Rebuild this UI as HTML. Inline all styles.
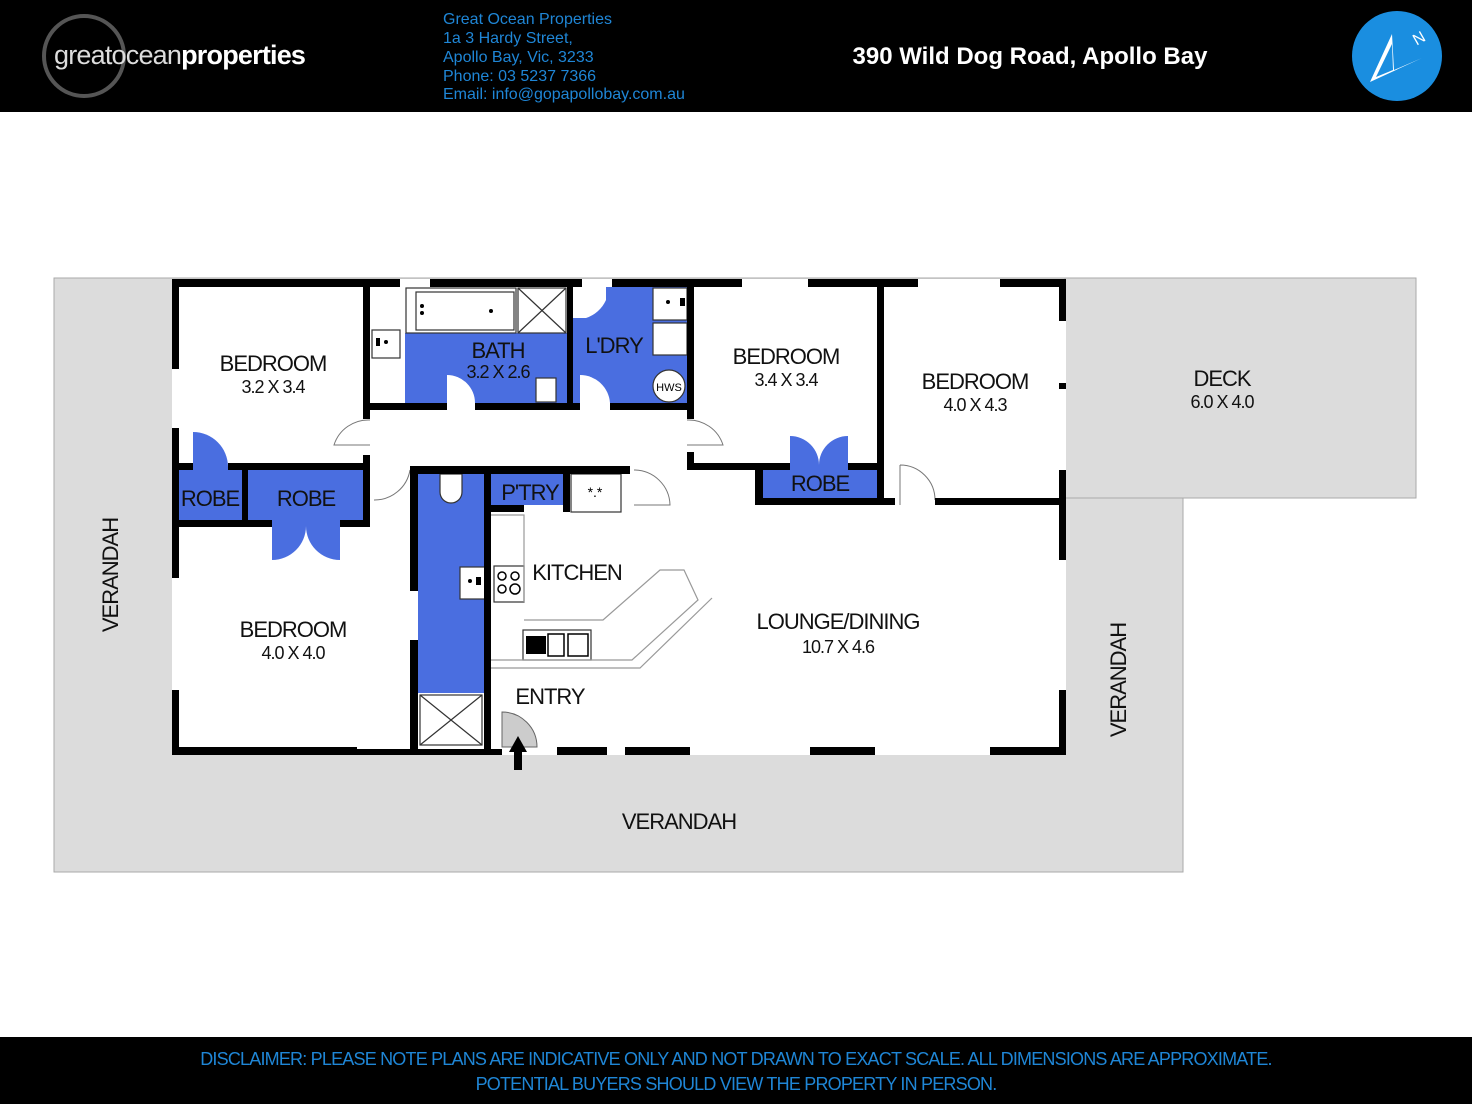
<!DOCTYPE html>
<html><head><meta charset="utf-8"><style>
body{margin:0;width:1472px;height:1104px;overflow:hidden;background:#fff;font-family:"Liberation Sans",sans-serif}
svg{display:block}
</style></head><body>
<svg width="1472" height="1104" viewBox="0 0 1472 1104" xmlns="http://www.w3.org/2000/svg" font-family="Liberation Sans, sans-serif">
<!-- header -->
<rect x="0" y="0" width="1472" height="112" fill="#000"/>
<circle cx="84" cy="56" r="40" fill="none" stroke="#555" stroke-width="4"/>
<text x="54" y="64" font-size="27" fill="#ddd" letter-spacing="-0.8">greatocean<tspan font-weight="bold" fill="#fff">properties</tspan></text>
<g fill="#1f86d6" font-size="16">
<text x="443" y="24">Great Ocean Properties</text>
<text x="443" y="43">1a 3 Hardy Street,</text>
<text x="443" y="62">Apollo Bay, Vic, 3233</text>
<text x="443" y="81">Phone: 03 5237 7366</text>
<text x="443" y="99">Email: info@gopapollobay.com.au</text>
</g>
<text x="1030" y="64" font-size="24" font-weight="bold" fill="#fff" text-anchor="middle">390 Wild Dog Road, Apollo Bay</text>
<circle cx="1397" cy="56" r="45" fill="#1a8ee0"/>
<polygon points="1370,82 1392,34 1394,70 1422,58" fill="#fff"/>
<polygon points="1376,77 1392,44 1393,70" fill="#1a8ee0"/>
<text x="1413" y="44" font-size="16" fill="#fff" transform="rotate(-30 1418 38)">N</text>

<!-- verandah / deck -->
<rect x="54" y="278" width="1129" height="594" fill="#dcdcdc" stroke="#aaa"/>
<rect x="1065" y="278" width="351" height="220" fill="#dcdcdc" stroke="#aaa"/>
<rect x="1066" y="279" width="116" height="218" fill="#dcdcdc"/>
<rect x="172" y="279" width="894" height="476" fill="#fff"/>

<!-- blue areas -->
<g fill="#4a6ee0">
<rect x="405" y="333" width="162" height="70"/>
<rect x="573" y="287" width="114" height="116"/>
<rect x="179" y="470" width="63" height="50"/>
<rect x="248" y="470" width="115" height="50"/>
<rect x="418" y="474" width="66" height="219"/>
<rect x="491" y="474" width="72" height="31"/>
<rect x="763" y="470" width="114" height="28"/>
<path d="M193 470 V432 A35 35 0 0 1 228 467 V470Z"/>
<path d="M272 520 V560 A34 34 0 0 0 306 526 A34 34 0 0 0 340 560 V520Z"/>
<path d="M790 470 V436 A29 29 0 0 1 819 465 A29 29 0 0 1 848 436 V470Z"/>
</g>
<!-- white fixtures -->
<g fill="#fff" stroke="#333" stroke-width="1.2">
<path d="M573 287 H606 V300 A33 33 0 0 1 586 318 H573Z" stroke="none"/>
<path d="M580 403 V375 A30 30 0 0 1 610 403Z" stroke="none"/>
<path d="M447 403 V375 A28 28 0 0 1 475 403Z" stroke="none"/>
<rect x="406" y="288" width="110" height="45"/>
<rect x="416" y="292" width="98" height="38"/>
<rect x="518" y="288" width="48" height="45"/>
<path d="M518 288 L566 333 M566 288 L518 333" fill="none"/>
<rect x="372" y="330" width="28" height="28"/>
<rect x="653" y="288" width="34" height="32"/>
<rect x="653" y="323" width="34" height="32"/>
<circle cx="669" cy="386" r="16"/>
<rect x="536" y="378" width="20" height="24"/>
<rect x="420" y="695" width="62" height="50"/>
<path d="M420 695 L482 745 M482 695 L420 745" fill="none"/>
<rect x="460" y="567" width="26" height="32"/>
<rect x="494" y="566" width="30" height="36"/>
<rect x="523" y="630" width="68" height="30"/>
<rect x="571" y="474" width="50" height="38"/>
<path d="M440 474 H462 V492 A11 11 0 0 1 440 492Z"/>
<path d="M491 515 H524 V602 M491 660 H632 L698 600 L684 570 L660 570 L603 620 H524 M491 668 H640 L712 598" fill="none" stroke="#999"/>
</g>
<g fill="#000">
<circle cx="422" cy="306" r="2"/><circle cx="422" cy="313" r="2"/><circle cx="491" cy="311" r="2"/>
<rect x="376" y="338" width="4" height="8"/><circle cx="386" cy="342" r="2"/>
<circle cx="668" cy="302" r="2"/><rect x="680" y="298" width="5" height="8"/>
<circle cx="470" cy="581" r="2"/><rect x="476" y="577" width="5" height="8"/>
<rect x="526" y="636" width="20" height="18"/>
</g>
<g fill="none" stroke="#000" stroke-width="1.5"><circle cx="502" cy="576" r="4"/><circle cx="515" cy="576" r="4"/><circle cx="502" cy="589" r="4"/><circle cx="515" cy="589" r="5"/><rect x="548" y="634" width="16" height="22"/><rect x="568" y="634" width="20" height="22"/></g>
<text x="669" y="391" font-size="11" text-anchor="middle">HWS</text>
<text x="595" y="497" font-size="14" text-anchor="middle">*.*</text>
<!-- door swings -->
<g fill="none" stroke="#777" stroke-width="1">
<path d="M370 420 A36 36 0 0 0 334 445 H370"/>
<path d="M410 470 A36 36 0 0 1 374 500"/>
<path d="M687 420 A36 36 0 0 1 723 445 H687"/>
<path d="M634 470 A36 36 0 0 1 670 505 H634"/>
<path d="M900 465 V505 M900 465 A35 35 0 0 1 935 500"/>
</g>
<path d="M502 747 V712 A35 35 0 0 1 537 747Z" fill="#ccc" stroke="#666"/>
<polygon points="518,736 509,752 514,752 514,770 522,770 522,752 527,752" fill="#000"/>

<!-- walls -->
<g fill="#000">
<rect x="172" y="279" width="228" height="8"/><rect x="430" y="279" width="152" height="8"/><rect x="612" y="279" width="130" height="8"/><rect x="808" y="279" width="110" height="8"/><rect x="1000" y="279" width="66" height="8"/>
<rect x="172" y="279" width="7" height="90"/><rect x="172" y="428" width="7" height="150"/><rect x="172" y="690" width="7" height="65"/>
<rect x="172" y="747" width="185" height="8"/><rect x="357" y="749" width="145" height="6"/><rect x="557" y="747" width="50" height="8"/><rect x="625" y="747" width="65" height="8"/><rect x="810" y="747" width="65" height="8"/><rect x="990" y="747" width="76" height="8"/>
<rect x="1059" y="279" width="7" height="42"/><rect x="1059" y="383" width="7" height="6"/><rect x="1059" y="470" width="7" height="90"/><rect x="1059" y="690" width="7" height="65"/>
<rect x="363" y="279" width="7" height="140"/><rect x="363" y="455" width="7" height="72"/>
<rect x="363" y="403" width="84" height="7"/><rect x="475" y="403" width="105" height="7"/><rect x="610" y="403" width="84" height="7"/>
<rect x="567" y="287" width="6" height="116"/>
<rect x="687" y="279" width="7" height="140"/><rect x="687" y="452" width="7" height="18"/>
<rect x="877" y="279" width="7" height="191"/>
<rect x="172" y="463" width="21" height="7"/><rect x="228" y="463" width="142" height="7"/>
<rect x="172" y="520" width="100" height="7"/><rect x="340" y="520" width="30" height="7"/>
<rect x="242" y="470" width="6" height="50"/>
<rect x="410" y="466" width="8" height="125"/><rect x="410" y="640" width="8" height="115"/>
<rect x="410" y="466" width="220" height="8"/>
<rect x="484" y="466" width="7" height="289"/>
<rect x="484" y="505" width="40" height="7"/><rect x="563" y="466" width="7" height="46"/>
<rect x="694" y="463" width="96" height="7"/><rect x="848" y="463" width="36" height="7"/>
<rect x="755" y="470" width="8" height="35"/><rect x="755" y="498" width="140" height="7"/><rect x="877" y="470" width="7" height="35"/>
<rect x="935" y="498" width="131" height="7"/>
</g>

<!-- labels -->
<g font-size="22" text-anchor="middle" letter-spacing="-1" fill="#111">
<text x="273" y="371">BEDROOM</text><text x="273" y="393" font-size="18">3.2 X 3.4</text>
<text x="498" y="358">BATH</text><text x="498" y="378" font-size="18">3.2 X 2.6</text>
<text x="614" y="353">L'DRY</text>
<text x="786" y="364">BEDROOM</text><text x="786" y="386" font-size="18">3.4 X 3.4</text>
<text x="975" y="389">BEDROOM</text><text x="975" y="411" font-size="18">4.0 X 4.3</text>
<text x="1222" y="386">DECK</text><text x="1222" y="408" font-size="18">6.0 X 4.0</text>
<text x="210" y="506">ROBE</text><text x="306" y="506">ROBE</text>
<text x="530" y="500">P'TRY</text><text x="820" y="491">ROBE</text>
<text x="577" y="580">KITCHEN</text>
<text x="838" y="629">LOUNGE/DINING</text><text x="838" y="653" font-size="18">10.7 X 4.6</text>
<text x="293" y="637">BEDROOM</text><text x="293" y="659" font-size="18">4.0 X 4.0</text>
<text x="550" y="704">ENTRY</text>
<text x="679" y="829">VERANDAH</text>
<text transform="translate(118 575) rotate(-90)">VERANDAH</text>
<text transform="translate(1126 680) rotate(-90)">VERANDAH</text>
</g>

<!-- footer -->
<rect x="0" y="1037" width="1472" height="67" fill="#000"/>
<g fill="#1f86d6" font-size="18" text-anchor="middle" letter-spacing="-0.8">
<text x="736" y="1065">DISCLAIMER: PLEASE NOTE PLANS ARE INDICATIVE ONLY AND NOT DRAWN TO EXACT SCALE. ALL DIMENSIONS ARE APPROXIMATE.</text>
<text x="736" y="1090">POTENTIAL BUYERS SHOULD VIEW THE PROPERTY IN PERSON.</text>
</g>
</svg>
</body></html>
